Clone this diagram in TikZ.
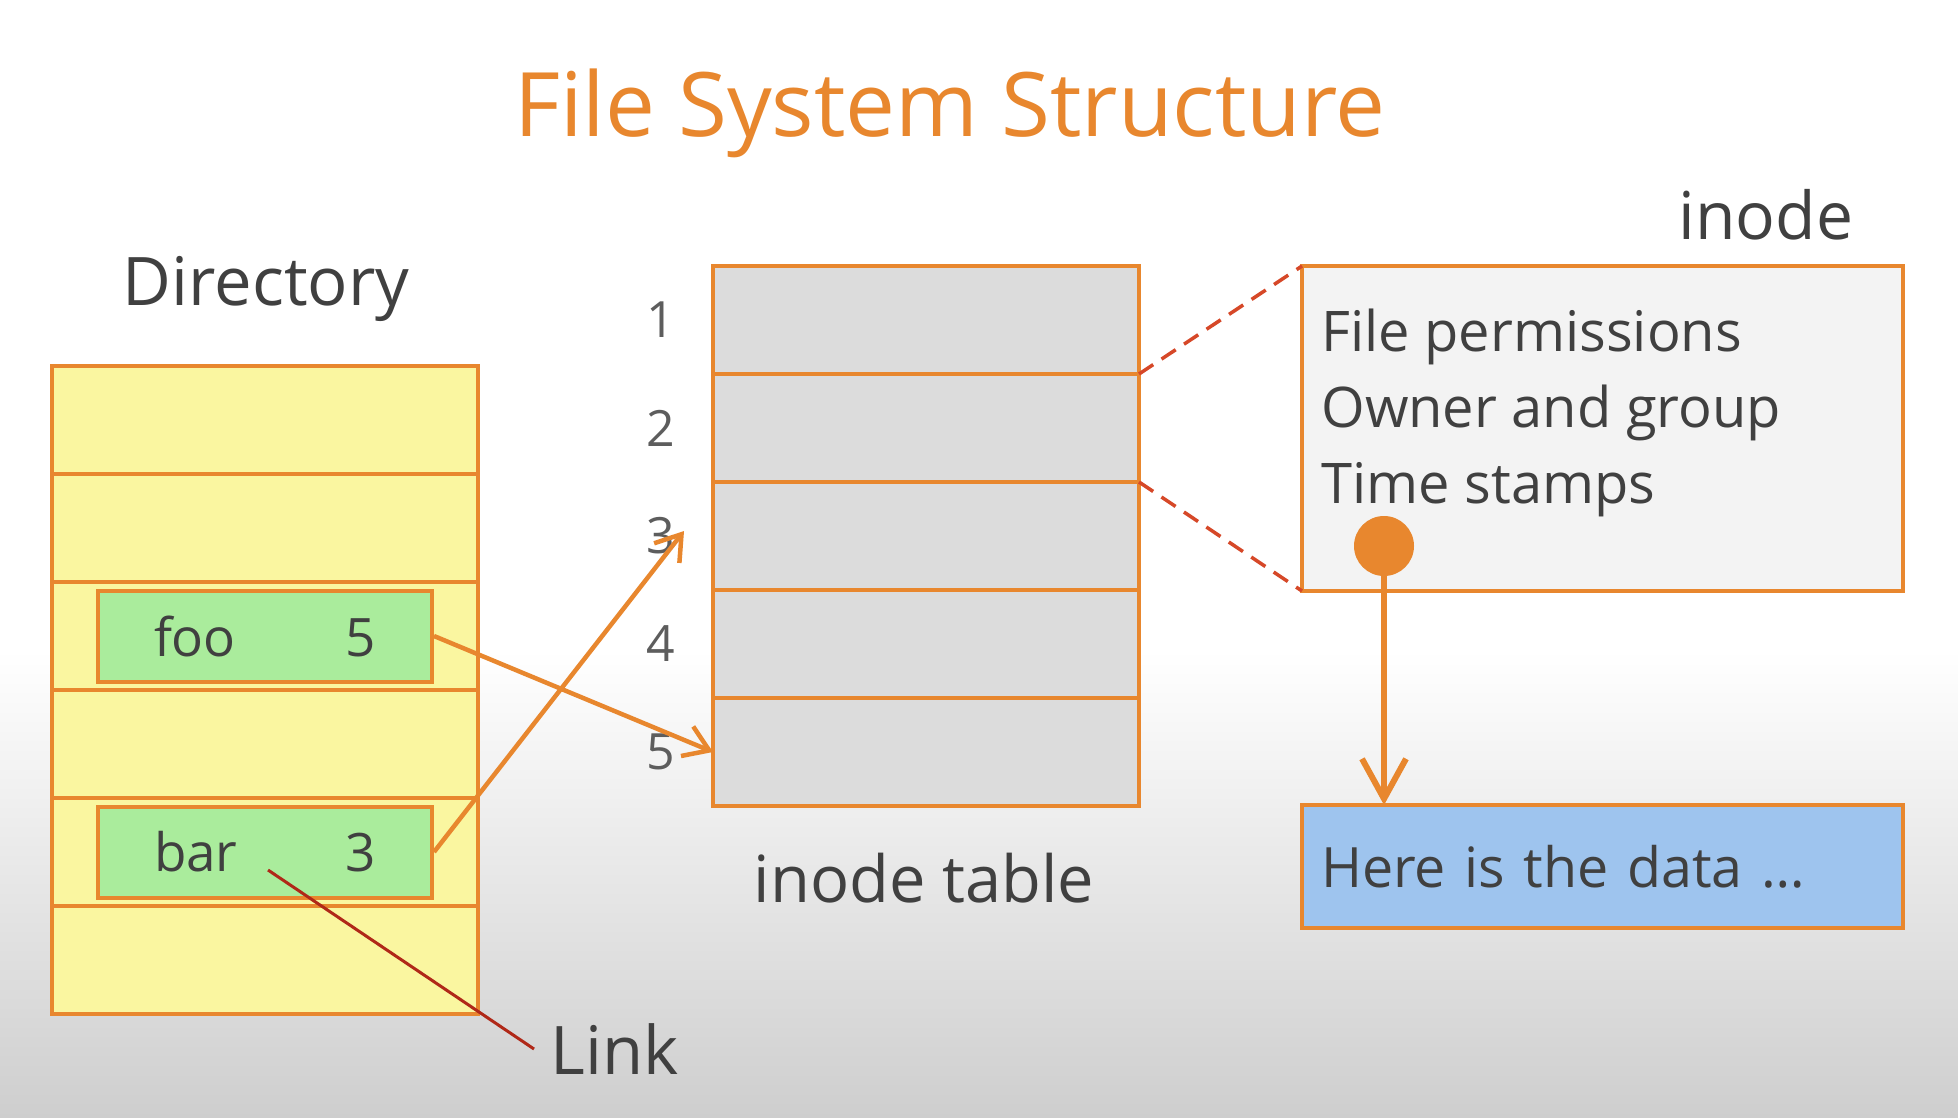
\documentclass[tikz,border=0pt]{standalone}
\usepackage{xcolor}
\usepackage{fontspec}
\setmainfont{Open Sans}
\usepackage{tikz}
\usetikzlibrary{arrows.meta,positioning}
\definecolor{fsorange}{RGB}{232,135,46}
\definecolor{fstext}{RGB}{64,64,64}
\definecolor{fsyellow}{RGB}{250,246,160}
\definecolor{fsgreen}{RGB}{170,236,156}
\definecolor{fsgray}{RGB}{220,220,220}
\definecolor{fslight}{RGB}{243,243,243}
\definecolor{fsblue}{RGB}{158,196,238}
\definecolor{fsred}{RGB}{214,72,40}
\definecolor{fsdarkred}{RGB}{176,40,24}
\definecolor{fsbg}{RGB}{206,206,206}

\begin{document}
\begin{tikzpicture}[
  x=0.5pt, y=-0.5pt, node distance=0pt,
  txt/.style={text=fstext, inner sep=0pt},
  dirrow/.style={draw=fsorange, line width=2pt, fill=fsyellow,
                 minimum width=213pt, minimum height=54pt, outer sep=0pt},
  tabrow/.style={dirrow, fill=fsgray},
  entry/.style={draw=fsorange, line width=2pt, fill=fsgreen, minimum height=45.5pt,
                text width=111pt, inner xsep=28pt, text=fstext,
                font=\fontsize{26.5}{32}\selectfont},
  num/.style={txt, text=fstext!85, font=\fontsize{25}{30}\selectfont},
  ibox/.style={draw=fsorange, line width=2pt, minimum width=300.5pt,
               anchor=north west, outer sep=0pt},
  ptr/.style={draw=fsorange, line width=2.25pt, -{Straight Barb[length=12pt,width=16pt]}},
  zoomln/.style={draw=fsred, line width=1.75pt, dash pattern=on 8.5pt off 5pt},
]
% background
\fill[white] (0,0) rectangle (1958,1118);
\shade[top color=white, bottom color=fsbg] (0,650) rectangle (1958,1118);
\useasboundingbox (0,0) rectangle (1958,1118);

% title
\node[anchor=base, text=fsorange, font=\fontsize{44.5}{50}\selectfont] (title)
  at (950,137) {File System Structure};

% Directory
\node[txt, anchor=base, font=\fontsize{33.5}{40}\selectfont] (dirlbl) at (266,306) {Directory};
\node[dirrow, anchor=north west] (d1) at (52,366) {};
\node[dirrow, below=of d1] (d2) {};
\node[dirrow, below=of d2] (d3) {};
\node[dirrow, below=of d3] (d4) {};
\node[dirrow, below=of d4] (d5) {};
\node[dirrow, below=of d5] (d6) {};
\node[entry] (foo) at (d3) {foo\hfill 5};
\node[entry] (bar) at (d5) {bar\hfill 3};

% inode table
\node[tabrow, anchor=north west] (t1) at (713,266) {};
\node[tabrow, below=of t1] (t2) {};
\node[tabrow, below=of t2] (t3) {};
\node[tabrow, below=of t3] (t4) {};
\node[tabrow, below=of t4] (t5) {};
\node[num, left=19pt of t1] (n1) {1};
\node[num, left=19pt of t2] (n2) {2};
\node[num, left=19pt of t3] (n3) {3};
\node[num, left=19pt of t4] (n4) {4};
\node[num, left=19pt of t5] (n5) {5};
\node[txt, anchor=base, font=\fontsize{32.5}{38}\selectfont] (tablbl) at (924,902) {inode table};

% inode
\node[txt, anchor=base, font=\fontsize{33}{38}\selectfont] (inodelbl) at (1766,240) {inode};
\node[ibox, fill=fslight, minimum height=162.5pt] (inode) at (1302,266) {};
\node[txt, anchor=north west, align=left, font=\fontsize{28}{38}\selectfont] (fields)
  at (1321,309) {File permissions\\Owner and group\\Time stamps};
\node[circle, fill=fsorange, minimum size=30pt, inner sep=0pt] (dot) at (1384,546) {};
\node[ibox, fill=fsblue, minimum height=61.5pt, text width=281.5pt, inner xsep=9.5pt,
      align=left, text=fstext, font=\fontsize{27.8}{34}\selectfont] (data)
  at (1302,805) {Here is the data …};

% link label
\coordinate (linkfrom) at (268,870);
\node[txt, anchor=west, inner sep=8pt, font=\fontsize{33.5}{40}\selectfont] (link) at (534,1049) {Link};

% connectors
\draw[ptr] (foo.east) -- (t5.west);
\draw[ptr] (bar.east) -- ([xshift=4.5pt,yshift=2.5pt]n3.east);
\draw[draw=fsdarkred, line width=1.5pt] (linkfrom) -- (link.west);
\draw[zoomln] (t1.south east) -- (inode.north west);
\draw[zoomln] (t2.south east) -- (inode.south west);
\draw[draw=fsorange, line width=3pt, -{Straight Barb[length=20pt,width=22pt]}]
  (dot) -- (dot |- data.north);
\end{tikzpicture}
\end{document}
